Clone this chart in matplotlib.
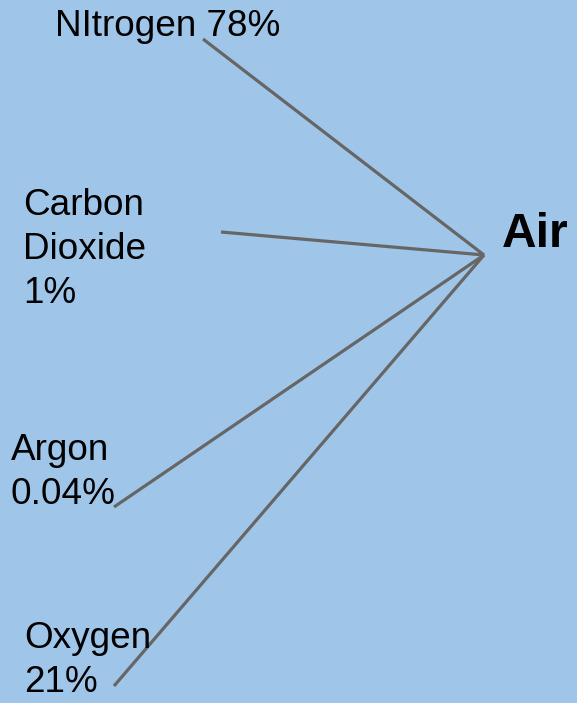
import matplotlib.pyplot as plt

plt.rcParams['font.family'] = ['Liberation Sans', 'DejaVu Sans']

# Data
CENTER = 'Air'
GASES = ['NItrogen', 'Carbon\nDioxide', 'Argon', 'Oxygen']
SHARES = ['78%', '1%', '0.04%', '21%']

# Layout (pixel coordinates, origin top-left)
W, H = 577, 703
HUB = (484, 255)
LINE_ENDS = [(203, 39), (221, 232), (114, 507), (114, 686)]
LABEL_POS = [(55, 36), (23, 215), (11, 460), (24, 648)]
INLINE = [True, False, False, False]   # share on same line as the name
LINE_STEP = 44
BG = '#9fc5e8'
LINE_COLOR = '#666666'


def main():
    fig = plt.figure(figsize=(W / 100, H / 100), dpi=100)
    fig.patch.set_facecolor(BG)
    ax = fig.add_axes([0, 0, 1, 1])
    ax.set_facecolor(BG)
    ax.set_xlim(0, W)
    ax.set_ylim(H, 0)
    ax.axis('off')

    for (x_end, y_end) in LINE_ENDS:
        ax.plot([x_end, HUB[0]], [y_end, HUB[1]], color=LINE_COLOR,
                linewidth=2.3, solid_capstyle='butt')

    for name, share, (x, y), inline in zip(GASES, SHARES, LABEL_POS, INLINE):
        if inline:
            lines = [f'{name} {share}']
        else:
            lines = name.split('\n') + [share]
        for i, line in enumerate(lines):
            ax.text(x, y + i * LINE_STEP, line, fontsize=26.6, color='black',
                    ha='left', va='baseline')

    ax.text(502, 247, CENTER, fontsize=34.5, fontweight='bold', color='black',
            ha='left', va='baseline')

    fig.savefig('out.png', dpi=100, facecolor=BG)


if __name__ == '__main__':
    main()
